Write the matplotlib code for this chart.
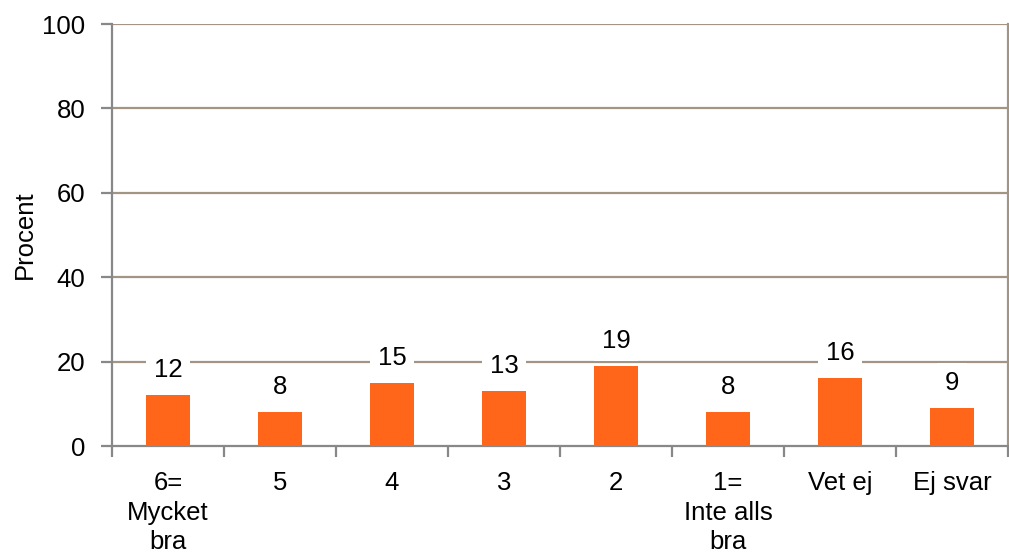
import matplotlib
matplotlib.use("Agg")
import matplotlib.pyplot as plt
import numpy as np

categories = ["6=\nMycket\nbra", "5", "4", "3", "2", "1=\nInte alls\nbra", "Vet ej", "Ej svar"]
values = [12, 8, 15, 13, 19, 8, 16, 9]
yticks = [0, 20, 40, 60, 80, 100]

plt.rcParams['font.family'] = ['Liberation Sans', 'DejaVu Sans']

fig = plt.figure(figsize=(10.09, 5.54), dpi=100)
ax = fig.add_axes([112/1009, 1-446/554, 896/1009, 422/554])

FS = 18.5
x = np.arange(len(categories))
bar_color = "#FF661A"
ax.bar(x, values, width=0.4, color=bar_color, zorder=3)

ax.set_xlim(-0.5, len(categories) - 0.5)
ax.set_ylim(0, 100)
ax.set_yticks(yticks)
ax.set_yticklabels([str(t) for t in yticks], fontsize=FS)

grid_color = "#A39584"
for t in yticks[1:]:
    ax.axhline(t, color=grid_color, lw=1.6, zorder=1)

ax.set_xticks(x)
ax.set_xticklabels(categories, fontsize=FS, linespacing=1.3)
ax.tick_params(axis='x', which='major', length=0, pad=18)
ax.set_xticks(np.arange(-0.5, len(categories), 1), minor=True)
ax.tick_params(axis='x', which='minor', length=8, width=1.6, color="#888888", direction='out')
ax.tick_params(axis='y', length=8, width=1.6, color="#888888", direction='out', pad=11)

ax.spines['top'].set_visible(False)
ax.spines['left'].set_color("#888888")
ax.spines['left'].set_linewidth(1.6)
ax.spines['bottom'].set_color("#888888")
ax.spines['bottom'].set_linewidth(1.6)
ax.spines['right'].set_color(grid_color)
ax.spines['right'].set_linewidth(1.6)

for xi, v in zip(x, values):
    ax.annotate(str(v), (xi, v), xytext=(0, 18), textcoords='offset points',
                ha='center', va='center', fontsize=FS, zorder=4,
                bbox=dict(boxstyle='square,pad=0.3', fc='white', ec='none'))

ax.set_ylabel("Procent", fontsize=FS, labelpad=4)

fig.savefig("out.png", dpi=100)
